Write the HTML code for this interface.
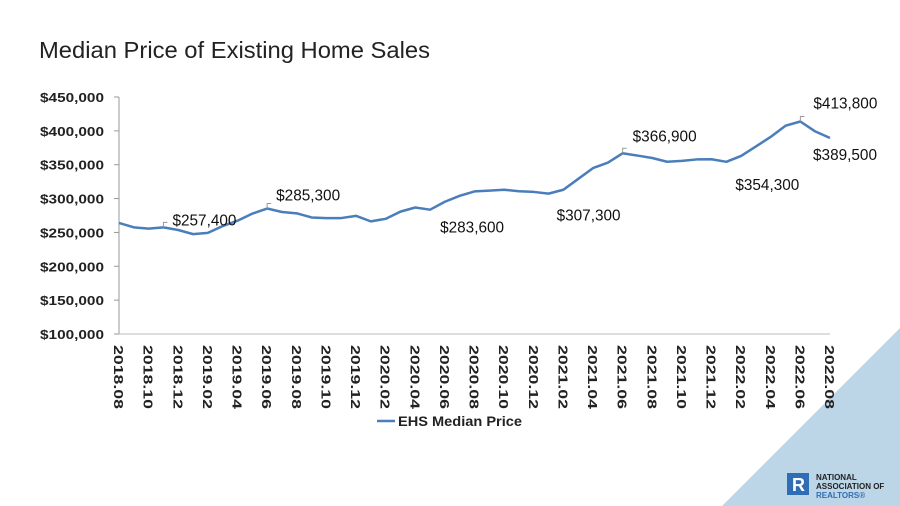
<!DOCTYPE html>
<html><head><meta charset="utf-8"><style>
body{margin:0;background:#fff;}
svg{display:block;font-family:"Liberation Sans",sans-serif;}
</style></head><body>
<svg id="chart" width="900" height="506" viewBox="0 0 900 506" xmlns="http://www.w3.org/2000/svg">
<polygon points="900,328 900,506 722,506" fill="#bcd6e8"/>
<text x="39" y="58" font-size="23" fill="#222" textLength="391" lengthAdjust="spacingAndGlyphs">Median Price of Existing Home Sales</text>
<g id="yaxis"></g><g id="xaxis"></g><g id="series"></g><g id="labels"></g>
<g>
<line x1="377" y1="421" x2="395" y2="421" stroke="#4a7ebb" stroke-width="2.5"/>
<text x="398" y="426" font-size="14" font-weight="bold" fill="#222" textLength="124" lengthAdjust="spacingAndGlyphs">EHS Median Price</text>
</g>
<g>
<rect x="787" y="473" width="22" height="22" fill="#2f6eb5"/>
<text x="792" y="491" font-size="18" font-weight="bold" fill="#fff">R</text>
<text x="816" y="480" font-size="8" font-weight="bold" fill="#222">NATIONAL</text>
<text x="816" y="489" font-size="8" font-weight="bold" fill="#222">ASSOCIATION OF</text>
<text x="816" y="498" font-size="8" font-weight="bold" fill="#2f6eb5">REALTORS®</text>
</g>
</svg>
<script>
const yTicks=[100000,150000,200000,250000,300000,350000,400000,450000];
const xTickLabels=["2018.08","2018.10","2018.12","2019.02","2019.04","2019.06","2019.08","2019.10","2019.12","2020.02","2020.04","2020.06","2020.08","2020.10","2020.12","2021.02","2021.04","2021.06","2021.08","2021.10","2021.12","2022.02","2022.04","2022.06","2022.08"];
const prices=[264000,257500,255600,257400,253600,247500,249400,259400,267300,277700,285300,280200,278200,272100,271100,271200,274500,266300,270100,280700,286800,283600,295300,304100,310600,311800,313000,310800,309800,307300,313000,329000,345000,353000,366900,363500,359900,354400,355700,357800,358100,354300,363000,377000,391200,407600,413800,399200,389500];
const labelIdx=[3,10,21,29,34,41,46,48];
const NS="http://www.w3.org/2000/svg";
const x0=119,x1=830,yb=334,yt=97,vmin=100000,vmax=450000;
const xs=i=>x0+(x1-x0)*i/(prices.length-1);
const ys=v=>yb-(v-vmin)/(vmax-vmin)*(yb-yt);
function mk(t,a,p){const e=document.createElementNS(NS,t);for(const k in a)e.setAttribute(k,a[k]);p.appendChild(e);return e;}
const fmt=v=>"$"+v.toLocaleString("en-US");
const ya=document.getElementById("yaxis");
mk("line",{x1:x0,y1:yt,x2:x0,y2:yb,stroke:"#999","stroke-width":1},ya);
yTicks.forEach(v=>{
 mk("line",{x1:x0-5,y1:ys(v),x2:x0,y2:ys(v),stroke:"#999"},ya);
 const t=mk("text",{x:104,y:ys(v)+5,"text-anchor":"end","font-size":13,"font-weight":"bold",fill:"#222",textLength:64,lengthAdjust:"spacingAndGlyphs"},ya);
 
 
 t.textContent=fmt(v);
});
const xa=document.getElementById("xaxis");
mk("line",{x1:x0,y1:yb,x2:x1,y2:yb,stroke:"#bbb"},xa);
xTickLabels.forEach((l,k)=>{
 const x=xs(k*2);
 const t=mk("text",{x:0,y:0,transform:`translate(${x-5},${yb+11}) rotate(90)`,"font-size":13,"font-weight":"bold",fill:"#222",textLength:64,lengthAdjust:"spacingAndGlyphs"},xa);
 
 
 t.textContent=l;
});
const s=document.getElementById("series");
const pl=mk("polyline",{points:prices.map((v,i)=>xs(i)+","+ys(v)).join(" "),fill:"none",stroke:"#4a7ebb","stroke-width":2.5,"stroke-linejoin":"round"},s);


const lg=document.getElementById("labels");
const offs={3:[9,-2,true],10:[9,-8,true],21:[10,23,false],29:[8,27,false],34:[10,-12,true],41:[9,28,false],46:[13,-13,true],48:[-17,22,false]};
labelIdx.forEach(i=>{
 const px=xs(i),py=ys(prices[i]);const o=offs[i];
 if(o[2]) mk("polyline",{points:`${px},${py} ${px},${py-5} ${px+4},${py-5}`,fill:"none",stroke:"#999"},lg);
 const t=mk("text",{x:px+o[0],y:py+o[1],"font-size":16,fill:"#111",textLength:64,lengthAdjust:"spacingAndGlyphs"},lg);
 
 
 t.textContent=fmt(prices[i]);
});
</script>
</body></html>
